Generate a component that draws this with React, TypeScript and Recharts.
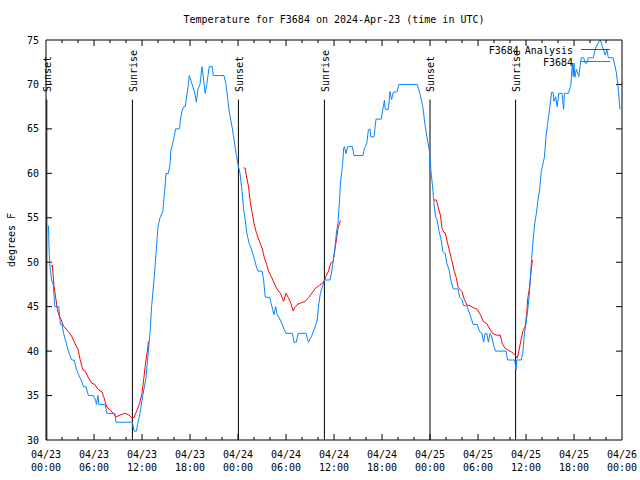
import { LineChart, Line, XAxis, YAxis, ReferenceLine } from "recharts";

// hours since 2024-04-23 00:00 UTC, temperature in F
const stationDay1 = [
  [0.3, 54.1], [0.4, 51], [0.5, 49.5], [0.7, 48], [0.9, 47.5], [1.1, 45], [1.6, 45], [1.8, 43], [2.0, 43],
  [2.2, 42], [2.5, 41], [2.8, 40], [3.0, 39.5], [3.2, 39], [3.5, 39], [3.8, 38], [4.0, 37.5], [4.25, 37],
  [4.5, 36.5], [4.7, 36], [5.0, 36], [5.3, 35], [5.9, 35], [6.2, 34.5], [6.3, 34], [6.5, 35], [6.6, 34],
  [7.4, 34], [7.6, 33], [8.6, 33], [8.75, 32], [10.8, 32], [11.0, 31], [11.3, 31], [11.5, 32], [11.75, 33],
  [12.1, 35], [12.5, 37], [12.8, 40], [13.0, 42], [13.2, 45], [13.5, 48], [13.75, 51], [14.0, 54], [14.25, 55],
  [14.6, 55.7], [14.9, 58.7], [15.0, 60], [15.3, 60], [15.5, 61], [15.6, 62.5], [16.0, 64], [16.2, 65],
  [16.7, 65], [16.8, 66], [17.0, 67], [17.2, 67.5], [17.4, 67.5], [17.8, 70], [17.9, 71], [18.1, 70.5],
  [18.6, 69], [18.8, 68], [19.0, 69.5], [19.25, 70], [19.5, 72], [19.9, 69], [20.1, 70], [20.4, 72],
  [20.8, 72], [20.9, 71], [22.25, 71], [22.5, 70], [22.7, 68.5], [22.9, 67], [23.3, 65], [23.8, 62], [24.0, 61],
];
const stationDay2 = [
  [24.25, 60], [24.5, 58], [24.7, 56], [24.9, 54.75], [25.1, 53.3], [25.4, 52.1], [25.7, 51.4], [26.0, 50.5],
  [26.3, 49.5], [26.5, 49], [27.0, 49], [27.2, 48], [27.4, 46.1], [28.0, 46], [28.1, 45.5], [28.5, 44.1],
  [28.7, 45], [28.9, 44.1], [29.3, 43.5], [29.7, 42.6], [30.0, 42], [30.8, 42], [31.0, 41], [31.3, 41],
  [31.5, 42], [32.5, 42], [32.8, 41], [33.2, 41.7], [33.6, 42.6], [33.9, 43.5], [34.1, 45.3], [34.3, 46.5],
  [34.6, 47.4], [34.8, 48], [35.5, 48], [35.7, 48.9], [35.9, 50.1], [36.1, 51.4], [36.3, 53.3], [36.5, 54.4],
  [36.6, 55.9], [36.7, 57], [36.8, 58.9], [37.0, 60.4], [37.1, 61.3], [37.2, 62.8], [37.3, 63], [37.5, 62.2],
  [37.7, 63], [38.3, 63], [38.5, 62], [39.6, 62], [39.8, 62.8], [40.1, 63.4], [40.3, 64.9], [40.5, 65],
  [40.6, 64.1], [41.0, 64.1], [41.25, 66.1], [41.9, 66.1], [42.3, 68.2], [42.4, 67.2], [42.8, 67.2],
  [43.0, 69.2], [43.2, 68.3], [43.4, 69.1], [43.9, 69.2], [44.1, 70], [46.4, 70], [46.7, 69.1], [47.1, 67.5],
  [47.4, 65.3], [47.6, 64.2], [48.0, 62.1],
];
const stationDay3 = [
  [48.1, 60.4], [48.3, 58.7], [48.5, 56.6], [48.7, 55.1], [48.9, 54.75], [49.1, 53.6], [49.4, 52.5],
  [49.6, 51.2], [49.9, 51], [50.1, 49.9], [50.4, 49.1], [50.6, 48], [50.9, 47], [51.5, 47], [51.7, 46.1],
  [52.0, 45.8], [52.2, 45.1], [52.6, 45.1], [52.8, 44.6], [53.0, 44.1], [53.4, 43], [53.9, 43], [54.2, 42.2],
  [54.5, 42], [54.7, 41], [54.9, 42], [55.1, 42], [55.3, 41], [55.5, 42], [55.7, 41.7], [56.0, 40.5],
  [56.2, 40], [57.5, 40], [57.7, 39], [58.6, 39], [58.75, 37.9], [58.85, 39], [59.4, 39], [59.6, 39.75],
  [59.8, 42], [60.0, 43.1], [60.3, 45.3], [60.5, 47.5], [60.7, 50.4], [60.9, 52.6], [61.1, 54.4], [61.3, 55.5],
  [61.5, 57], [61.7, 58.1], [61.9, 60.2], [62.3, 61.8], [62.5, 64.1], [62.7, 65.6], [62.9, 66.9], [63.2, 69.1],
  [63.4, 69.1], [63.5, 68.1], [63.7, 68.6], [63.9, 67.5], [64.1, 69], [64.5, 69], [64.7, 67.2], [64.8, 69],
  [65.3, 69], [65.6, 69.9], [65.8, 72.4], [65.9, 70.9], [66.0, 72.4], [66.1, 70.8], [66.3, 71.7], [66.6, 70.9],
  [66.9, 73], [67.2, 73], [67.4, 72.4], [67.6, 72.4], [67.8, 73], [68.4, 73], [68.7, 74.1], [69.1, 74.8],
  [69.3, 75], [69.5, 74.4], [69.7, 73.9], [69.9, 73.3], [70.1, 73.9], [70.3, 73], [70.9, 73], [71.3, 71.3],
  [71.5, 69.8], [71.6, 68.7], [71.75, 67.2],
];

const analysisNight1 = [
  [0.7, 49.5], [0.8, 49.7], [0.9, 48.4], [1.0, 47.3], [1.2, 46.1], [1.4, 44.8], [1.6, 44.1], [1.9, 43.5],
  [2.2, 42.8], [2.8, 42.2], [3.2, 41.7], [3.6, 40.9], [4.0, 40.2], [4.25, 39.1], [4.6, 37.9], [4.9, 37.75],
  [5.3, 37], [5.7, 36.4], [6.1, 36.25], [6.5, 35.7], [7.0, 35.4], [7.2, 34.9], [7.4, 34.3], [7.6, 33.7],
  [8.0, 33.4], [8.4, 33], [8.75, 32.6], [9.0, 32.7], [9.5, 32.9], [9.9, 33], [10.4, 32.8], [10.7, 32.5],
  [11.0, 32.5], [11.2, 33], [11.4, 33.4], [11.7, 34.1], [11.8, 34.5], [12.0, 35.25], [12.1, 36],
  [12.25, 37.1], [12.4, 38.3], [12.5, 39], [12.7, 40.2], [12.8, 41.1],
];
const analysisNight2 = [
  [24.7, 60.6], [24.9, 60.6], [25.05, 59.7], [25.3, 58.6], [25.5, 57], [25.7, 55.9], [26.0, 54.4],
  [26.3, 53.3], [26.7, 52.3], [27.0, 51.6], [27.3, 50.5], [27.6, 49.7], [27.8, 49], [28.1, 48.5],
  [28.4, 47.9], [28.8, 47.1], [29.3, 46.5], [29.7, 45.6], [30.0, 46.5], [30.3, 46], [30.6, 45.4],
  [30.9, 44.5], [31.1, 44.9], [31.5, 45.3], [31.8, 45.4], [32.4, 45.6], [32.8, 46], [33.3, 46.6],
  [33.7, 47.1], [34.2, 47.4], [34.5, 47.6], [34.8, 47.9], [35.0, 48.4], [35.3, 49], [35.6, 49.9],
  [35.9, 50.1], [36.1, 51.4], [36.3, 52.5], [36.5, 53.8], [36.7, 54.4], [36.8, 54.7],
];
const analysisNight3 = [
  [48.5, 57], [48.8, 57], [49.0, 56.25], [49.3, 55.3], [49.5, 53.8], [49.7, 53.4], [49.9, 53.3],
  [50.1, 52.5], [50.4, 51.4], [50.7, 50.3], [51.0, 49.1], [51.3, 48.2], [51.5, 47.2], [52.0, 46.7],
  [52.3, 45.8], [52.6, 45.2], [53.0, 45.1], [53.4, 44.9], [53.9, 44.7], [54.3, 44.1], [54.7, 43.3],
  [55.1, 43.1], [55.4, 42.6], [55.8, 42], [56.3, 41.8], [56.8, 41.8], [57.0, 40.9], [57.4, 40.3],
  [57.8, 40.1], [58.2, 39.9], [58.6, 39.6], [58.9, 39.2], [59.1, 40], [59.3, 40.9], [59.6, 42.2],
  [59.9, 42.8], [60.1, 44.3], [60.2, 45.8], [60.4, 46.9], [60.7, 49.5], [60.8, 50.2], [60.9, 50.2],
];

const sunHours = [0.1, 10.8, 24.05, 34.8, 48.0, 58.7];
const sunLabels = ["Sunset", "Sunrise", "Sunset", "Sunrise", "Sunset", "Sunrise"];
const sunLineTop = 68.3;

const majorHours = [0, 6, 12, 18, 24, 30, 36, 42, 48, 54, 60, 66, 72];
const minorHours = [2, 4, 8, 10, 14, 16, 20, 22, 26, 28, 32, 34, 38, 40, 44, 46, 50, 52, 56, 58, 62, 64, 68, 70];
const tempTicks = [30, 35, 40, 45, 50, 55, 60, 65, 70, 75];

const legendNames = ["F3684 Analysis", "F3684"];

const X_MIN = 0, X_MAX = 72, Y_MIN = 30, Y_MAX = 75;
// tick lengths in axis units (plot is 576 x 400 px)
const HOURS_PER_PX = (X_MAX - X_MIN) / 576;
const DEG_PER_PX = (Y_MAX - Y_MIN) / 400;
const MAJOR = 6, MINOR = 3;

const FONT = "'DejaVu Sans Mono', monospace";
const RED = "#ff0000";
const BLUE = "#0a84ff";
const legendColors = [RED, BLUE];

const toRows = (pts: number[][]) => pts.map(([h, t]) => ({ h, t }));
const stationData = toRows([...stationDay1, ...stationDay2, ...stationDay3]);
const analysisSegments = [analysisNight1, analysisNight2, analysisNight3].map(toRows);

// inward gnuplot-style tick marks on all four sides
const tickSegments: { x: number; y: number }[][] = [];
const inner = (arr: number[], lo: number, hi: number) => arr.filter((v) => v > lo && v < hi);
[...inner(majorHours, X_MIN, X_MAX).map((h) => [h, MAJOR]), ...minorHours.map((h) => [h, MINOR])].forEach(([h, len]) => {
  const dy = len * DEG_PER_PX;
  tickSegments.push([{ x: h, y: Y_MIN }, { x: h, y: Y_MIN + dy }]);
  tickSegments.push([{ x: h, y: Y_MAX }, { x: h, y: Y_MAX - dy }]);
});
inner(tempTicks, Y_MIN, Y_MAX).forEach((t) => {
  const dx = MAJOR * HOURS_PER_PX;
  tickSegments.push([{ x: X_MIN, y: t }, { x: X_MIN + dx, y: t }]);
  tickSegments.push([{ x: X_MAX, y: t }, { x: X_MAX - dx, y: t }]);
});

const DateTick = (props: any) => {
  const { x, y, payload } = props;
  const h = payload.value;
  const day = 23 + Math.floor(h / 24);
  const hr = String(h % 24).padStart(2, "0");
  return (
    <g fontFamily={FONT} fontSize={10} fill="#000">
      <text x={x} y={y + 14} textAnchor="middle" dominantBaseline="central">{`04/${day}`}</text>
      <text x={x} y={y + 27} textAnchor="middle" dominantBaseline="central">{`${hr}:00`}</text>
    </g>
  );
};

const sunLabel = (text: string) => (props: any) => {
  const vb = props.viewBox || {};
  const x = vb.x + 1;
  const y = vb.y - 7.5;
  return (
    <text x={x} y={y} transform={`rotate(-90 ${x} ${y})`} dominantBaseline="central"
      fontFamily={FONT} fontSize={10} fill="#000">
      {text}
    </text>
  );
};

const YTitle = (props: any) => {
  const vb = props.viewBox || {};
  const x = vb.x + 5;
  const y = vb.y + vb.height / 2;
  return (
    <text x={x} y={y} transform={`rotate(-90 ${x} ${y})`} textAnchor="middle" dominantBaseline="central"
      fontFamily={FONT} fontSize={10} fill="#000">
      degrees F
    </text>
  );
};

export default function App() {
  const tickFont = { fontFamily: FONT, fontSize: 10, fill: "#000" };
  const black = { stroke: "#000" };
  return (
    <div style={{ position: "absolute", left: 0, top: 0, width: 640, height: 480, background: "#fff" }}>
      <LineChart width={640} height={480} margin={{ top: 40, right: 18, bottom: 10, left: 6 }}>
        {/* labelled axes */}
        <XAxis xAxisId="x" type="number" dataKey="h" domain={[X_MIN, X_MAX]} ticks={majorHours} interval={0}
          tick={<DateTick />} tickLine={false} axisLine={false} tickSize={0} tickMargin={0} height={30} />
        <YAxis yAxisId="y" type="number" domain={[Y_MIN, Y_MAX]} ticks={tempTicks} interval={0} width={40}
          tick={tickFont} tickLine={false} axisLine={false} tickSize={0} tickMargin={7} label={<YTitle />} />

        {/* frame */}
        <XAxis xAxisId="xb" type="number" domain={[X_MIN, X_MAX]} mirror tick={false} tickLine={false} axisLine={black} />
        <XAxis xAxisId="xt" orientation="top" type="number" domain={[X_MIN, X_MAX]} mirror tick={false}
          tickLine={false} axisLine={black} />
        <YAxis yAxisId="yl" type="number" domain={[Y_MIN, Y_MAX]} mirror tick={false} tickLine={false} axisLine={black} />
        <YAxis yAxisId="yr" orientation="right" type="number" domain={[Y_MIN, Y_MAX]} mirror tick={false}
          tickLine={false} axisLine={black} />

        {tickSegments.map((seg, i) => (
          <ReferenceLine key={`tick-${i}`} xAxisId="x" yAxisId="y" segment={seg} stroke="#000" strokeWidth={1} />
        ))}

        {sunHours.map((h, i) => (
          <ReferenceLine
            key={`sun-${i}`}
            xAxisId="x"
            yAxisId="y"
            segment={[{ x: h, y: Y_MIN }, { x: h, y: sunLineTop }]}
            stroke="#000"
            strokeWidth={1}
            label={{ content: sunLabel(sunLabels[i]) }}
          />
        ))}

        {analysisSegments.map((seg, i) => (
          <Line key={`an-${i}`} xAxisId="x" yAxisId="y" data={seg} dataKey="t" type="linear"
            stroke={RED} strokeWidth={1} dot={false} isAnimationActive={false} />
        ))}
        <Line xAxisId="x" yAxisId="y" data={stationData} dataKey="t" type="linear"
          stroke={BLUE} strokeWidth={1} dot={false} isAnimationActive={false} />
      </LineChart>

      <div style={{ position: "absolute", left: 134, top: 14, width: 400, textAlign: "center",
        fontFamily: FONT, fontSize: 10, lineHeight: "12px", color: "#000" }}>
        Temperature for F3684 on 2024-Apr-23 (time in UTC)
      </div>

      {/* legend, gnuplot style: right-aligned names with line samples */}
      <svg style={{ position: "absolute", left: 440, top: 40, overflow: "visible" }} width={180} height={30}>
        {legendNames.map((name, i) => (
          <g key={name}>
            <text x={133} y={10 + i * 12} textAnchor="end" dominantBaseline="central"
              fontFamily={FONT} fontSize={10} fill="#000">{name}</text>
            <line x1={141} x2={170} y1={9.5 + i * 12} y2={9.5 + i * 12} stroke={legendColors[i]} strokeWidth={1} />
          </g>
        ))}
      </svg>
    </div>
  );
}
